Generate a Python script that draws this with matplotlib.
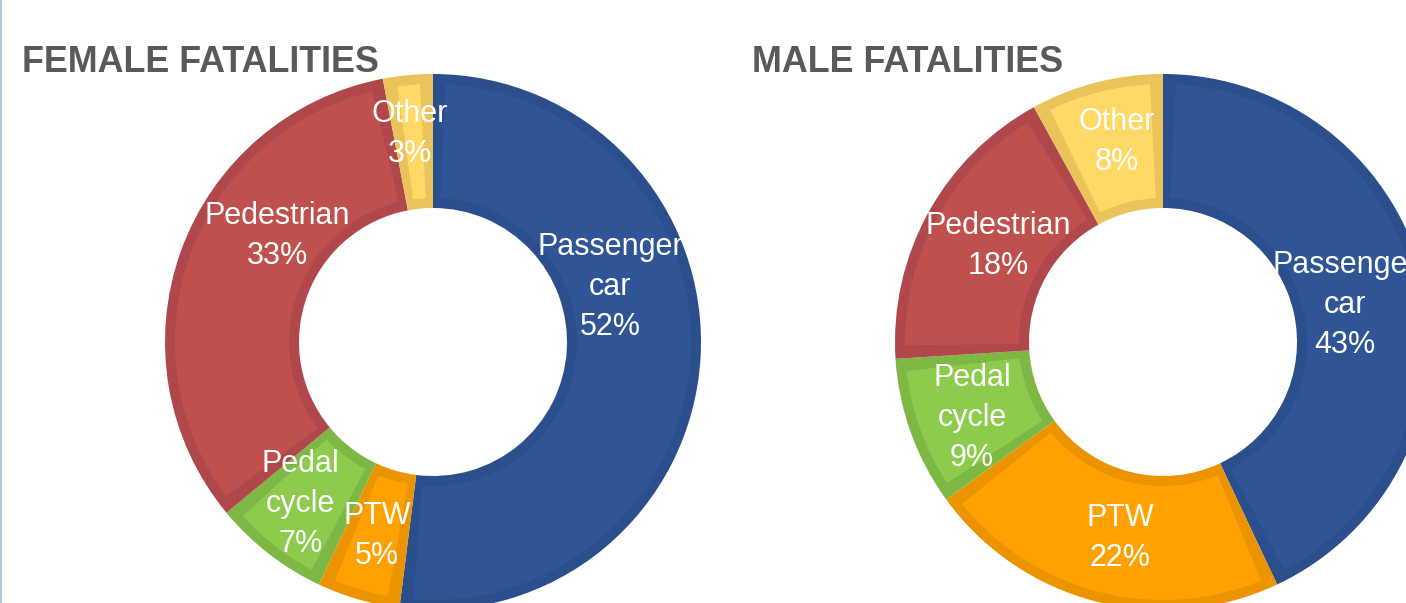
import numpy as np
import matplotlib
matplotlib.use("Agg")
import matplotlib.pyplot as plt
from matplotlib.patches import Wedge

plt.rcParams['font.family'] = ['Liberation Sans', 'DejaVu Sans']

categories = ["Passenger\ncar", "PTW", "Pedal\ncycle", "Pedestrian", "Other"]
female = [52, 5, 7, 33, 3]
male = [43, 22, 9, 18, 8]

fill_cols = ["#2F5597", "#FFA100", "#8CCB4C", "#C0504D", "#FFD866"]
edge_cols = ["#2B4F8D", "#EC9400", "#7DB845", "#B0474A", "#EAC35A"]

W, H = 1406, 603
R, RIN, B = 268, 134, 10

# label block centres in pixels (x, y from top)
female_lbl = [(610, 287), (377, 536), (300, 504), (277, 236), (410, 134)]
male_lbl = [(1345, 305), (1120, 538), (972, 418), (998, 246), (1117, 142)]

fig = plt.figure(figsize=(W / 100, H / 100), dpi=100)
ax = fig.add_axes([0, 0, 1, 1])


def donut(vals, cx, cy, lbls, title, tx):
    cy = H - cy
    wedges, _ = ax.pie(vals, colors=edge_cols, startangle=90, counterclock=False,
                       radius=R, center=(cx, cy),
                       wedgeprops=dict(width=R - RIN, edgecolor='none'))
    rmid = (R + RIN) / 2
    dth = np.degrees(B / rmid)
    for w, c in zip(wedges, fill_cols):
        ax.add_patch(Wedge((cx, cy), R - B, w.theta1 + dth, w.theta2 - dth,
                           width=R - RIN - 2 * B, facecolor=c, edgecolor='none'))
    for (lx, ly), name, v in zip(lbls, categories, vals):
        ax.text(lx, H - ly, f"{name}\n{v}%", ha='center', va='center',
                color='white', fontsize=22, linespacing=1.42, clip_on=True)
    ax.text(tx, H - 62, title, ha='left', va='center', color='#595959',
            fontsize=25.8, fontweight='bold')


donut(female, 433, 342, female_lbl, "FEMALE FATALITIES", 22)
donut(male, 1163, 342, male_lbl, "MALE FATALITIES", 752)

ax.plot([1, 1], [0, H], color='#B4C7E7', lw=1.5)
ax.set_xlim(0, W)
ax.set_ylim(0, H)
ax.set_aspect('auto')
ax.axis('off')

fig.savefig("out.png", dpi=100)
